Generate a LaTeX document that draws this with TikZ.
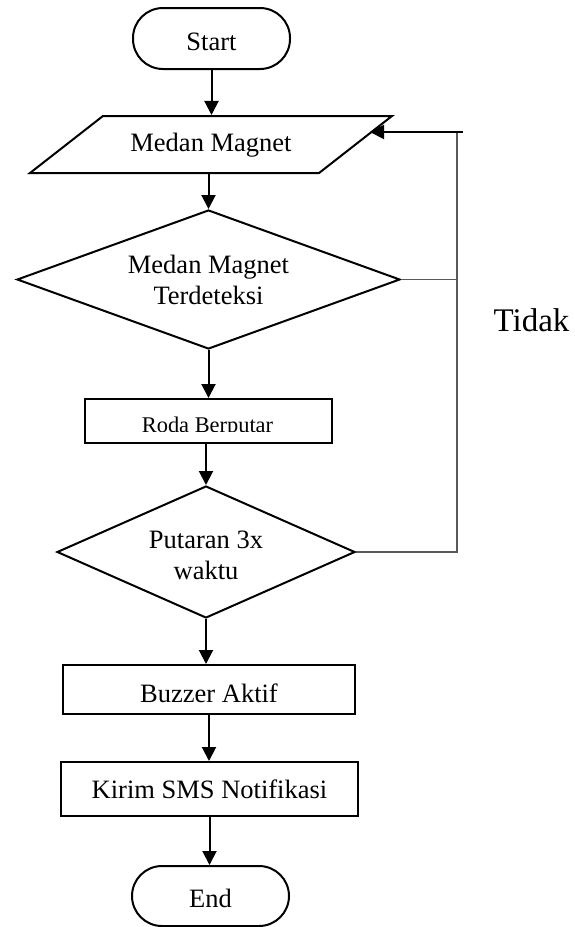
\documentclass[tikz,border=0pt]{standalone}
\usepackage{fontspec}
\setmainfont{Liberation Serif}
\usetikzlibrary{shapes.geometric,arrows.meta}
\newcommand{\dn}[2]{\raisebox{-#1pt}[\height][\depth]{#2}}
\begin{document}
\begin{tikzpicture}[x=1pt,y=-1pt,
  base/.style={draw=black,line width=2pt,inner sep=0pt,font=\fontsize{26.5}{31}\selectfont},
  term/.style={base,rectangle,rounded corners=30pt,minimum width=157pt,minimum height=61pt},
  proc/.style={base,rectangle},
  dec/.style={base,diamond},
  inout/.style={base,trapezium,trapezium left angle=38,trapezium right angle=142,trapezium stretches body,text height=20pt,text depth=6pt,inner ysep=15.5pt,inner xsep=0pt},
  arr/.style={line width=2pt,-{Triangle[length=14pt,width=14pt]}},
  fb/.style={line width=1.3pt,draw=black!65}]
\useasboundingbox (0,0) rectangle (574,927);
\node[term] (start) at (211.5,38.5) {\dn{3}{Start}};
\node[inout,minimum width=362pt] (para) at (211,144.5) {Medan Magnet};
\node[dec,minimum width=383pt,minimum height=139pt,aspect=2.75] (d1) at (208.5,279.5) {\dn{3}{\begin{tabular}{@{}c@{}}Medan Magnet\\Terdeteksi\end{tabular}}};
\node[proc,minimum width=247pt,minimum height=44pt] (roda) at (208.5,421) {};
\begin{scope}
\clip (85,399) rectangle (332,431);
\node[anchor=base,inner sep=0pt,font=\fontsize{22.4}{26}\selectfont] (rodatext) at (207.5,432) {Roda Berputar};
\end{scope}
\node[dec,minimum width=298pt,minimum height=132pt,aspect=2.26] (d2) at (206,552) {\dn{6}{\begin{tabular}{@{}c@{}}Putaran 3x\\waktu\end{tabular}}};
\node[proc,minimum width=292pt,minimum height=49pt] (buzz) at (209,689.5) {\dn{3.5}{Buzzer Aktif}};
\node[proc,minimum width=297pt,minimum height=54pt] (sms) at (209.5,789) {Kirim SMS Notifikasi};
\node[term,minimum height=60pt] (end) at (210.5,896) {\dn{2.5}{End}};
\node[font=\fontsize{33}{40}\selectfont,inner sep=0pt] (tidak) at (531.5,320) {Tidak};
% main flow
\draw[arr] (start.south) -- (start.south |- para.north);
\draw[arr] (para.south -| d1.north) -- (d1.north);
\draw[arr] (d1.south) -- (d1.south |- roda.north);
\draw[arr] (roda.south -| d2.north) -- (d2.north);
\draw[arr] (d2.south) -- (d2.south |- buzz.north);
\draw[arr] (buzz.south) -- (buzz.south |- sms.north);
\draw[arr] (sms.south) -- (sms.south |- end.north);
% feedback
\coordinate (fbtop) at (457,132);
\coordinate (fbin) at (463,132);
\coordinate (parain) at (370,132);
\draw[fb] (d1.east) -- (d1.east -| fbtop);
\draw[fb] (d2.east) -- (d2.east -| fbtop) -- (fbtop);
\draw[arr] (fbin) -- (parain);
\end{tikzpicture}
\end{document}
